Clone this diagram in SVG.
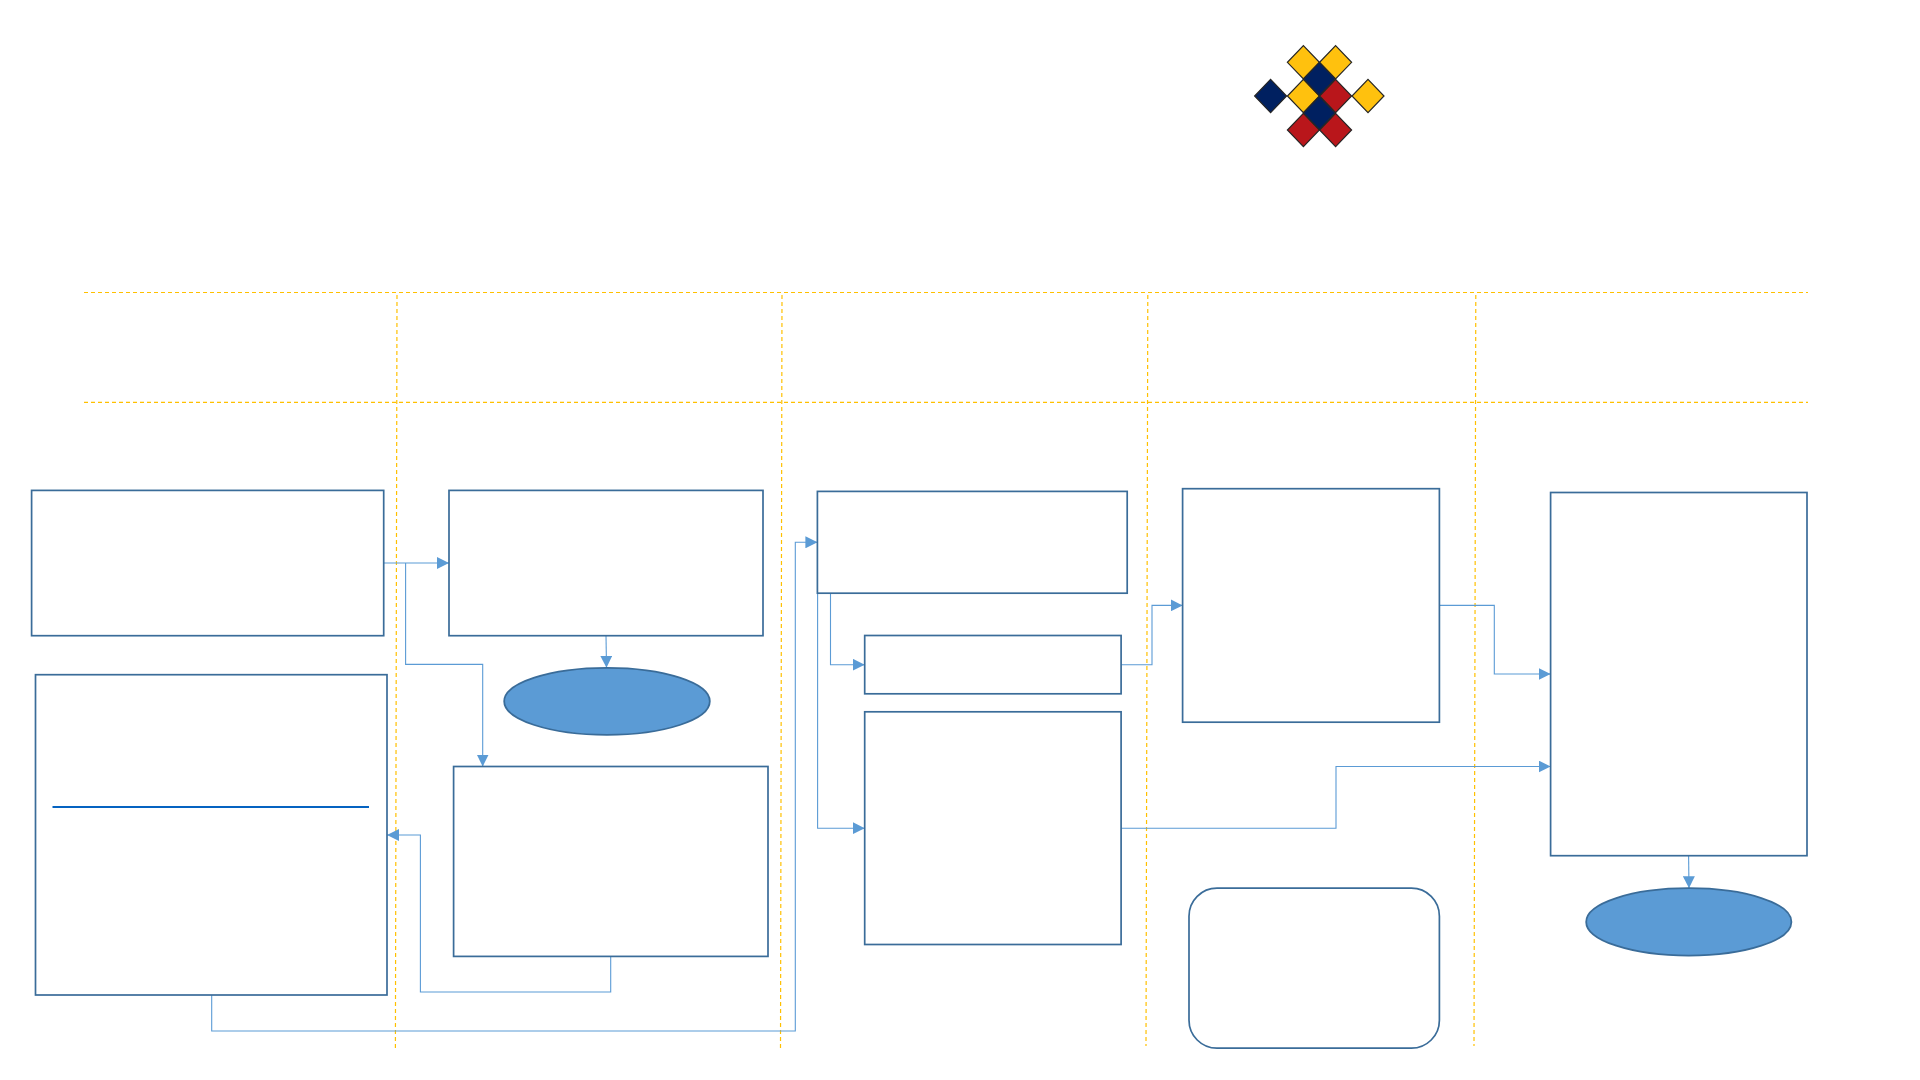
<svg xmlns="http://www.w3.org/2000/svg" width="1920" height="1080" viewBox="0 0 1920 1080">
  <style>
    .box { fill: #ffffff; stroke: #3a6c99; stroke-width: 1.7; }
    .term { fill: #5b9bd5; stroke: #3a6c99; stroke-width: 1.8; }
    .conn { fill: none; stroke: #5b9bd5; stroke-width: 1.1; marker-end: url(#arrow); }
    .guide { stroke: #ffc000; stroke-width: 1.2; stroke-dasharray: 4 3; fill: none; }
    .d { stroke: #262626; stroke-width: 1.2; }
    .y { fill: #ffc10e; }
    .n { fill: #002060; }
    .r { fill: #b9161b; }
  </style>
  <defs>
    <marker id="arrow" markerUnits="userSpaceOnUse" markerWidth="12" markerHeight="12" refX="12" refY="6" orient="auto">
      <path d="M0,0 L12,6 L0,12 Z" fill="#5b9bd5"/>
    </marker>
    <path id="dia" d="M0,-16.7 L16,0 L0,16.7 L-16,0 Z"/>
  </defs>
  <rect width="1920" height="1080" fill="#ffffff"/>

  <g id="guides">
    <line class="guide" x1="84" y1="292.5" x2="1808" y2="292.5"/>
    <line class="guide" x1="84" y1="402.3" x2="1808" y2="402.3"/>
    <line class="guide" x1="397" y1="295" x2="395.4" y2="1050"/>
    <line class="guide" x1="782" y1="295" x2="780.5" y2="1050"/>
    <line class="guide" x1="1147.8" y1="295" x2="1146" y2="1046"/>
    <line class="guide" x1="1475.8" y1="295" x2="1474" y2="1046"/>
  </g>

  <g id="logo">
    <use href="#dia" class="d y" x="1303.4" y="62.3"/>
    <use href="#dia" class="d y" x="1335.6" y="62.3"/>
    <use href="#dia" class="d n" x="1270.6" y="96"/>
    <use href="#dia" class="d y" x="1303.4" y="96"/>
    <use href="#dia" class="d r" x="1335.6" y="96"/>
    <use href="#dia" class="d y" x="1368" y="96"/>
    <use href="#dia" class="d r" x="1303.4" y="130"/>
    <use href="#dia" class="d r" x="1335.6" y="130"/>
    <use href="#dia" class="d n" x="1319.4" y="79"/>
    <use href="#dia" class="d n" x="1319.4" y="113"/>
  </g>

  <g id="connectors">
    <path class="conn" d="M383.7,563 H449"/>
    <path class="conn" d="M405.6,563 V664.4 H482.7 V766.5"/>
    <path class="conn" d="M606,635.7 L606.5,667.8"/>
    <path class="conn" d="M610.7,956.4 V992 H420.4 V835 H387"/>
    <path class="conn" d="M211.7,995 V1031 H795.3 V542.3 H817.4"/>
    <path class="conn" d="M830.5,593.2 V664.7 H864.7"/>
    <path class="conn" d="M817.6,593.2 V828.2 H864.7"/>
    <path class="conn" d="M1121.3,664.7 H1152 V605.4 H1182.6"/>
    <path class="conn" d="M1439.4,605.4 H1494.3 V674 H1550.6"/>
    <path class="conn" d="M1121.3,828.2 H1336 V766.5 H1550.6"/>
    <path class="conn" d="M1688.6,855.7 L1689,888.2"/>
  </g>

  <g id="node-1"><rect class="box" x="31.6" y="490.4" width="352.1" height="145.3"/></g>
  <g id="node-2"><rect class="box" x="449" y="490.4" width="314" height="145.3"/></g>
  <g id="node-3"><ellipse class="term" cx="607" cy="701.3" rx="102.8" ry="33.5"/></g>
  <g id="node-4">
    <rect class="box" x="35.5" y="674.7" width="351.5" height="320.3"/>
    <line x1="52.5" y1="807" x2="369" y2="807" stroke="#0563c1" stroke-width="2.2"/>
  </g>
  <g id="node-5"><rect class="box" x="453.6" y="766.5" width="314.4" height="189.9"/></g>
  <g id="node-6"><rect class="box" x="817.4" y="491.4" width="309.8" height="101.8"/></g>
  <g id="node-7"><rect class="box" x="864.7" y="635.5" width="256.4" height="58.3"/></g>
  <g id="node-8"><rect class="box" x="864.7" y="711.8" width="256.4" height="232.7"/></g>
  <g id="node-9"><rect class="box" x="1182.6" y="488.7" width="256.8" height="233.5"/></g>
  <g id="node-10"><rect class="box" x="1189" y="888.2" width="250.4" height="160" rx="28" ry="28"/></g>
  <g id="node-11"><rect class="box" x="1550.6" y="492.5" width="256.4" height="363.2"/></g>
  <g id="node-12"><ellipse class="term" cx="1688.8" cy="921.9" rx="102.6" ry="33.7"/></g>
</svg>
